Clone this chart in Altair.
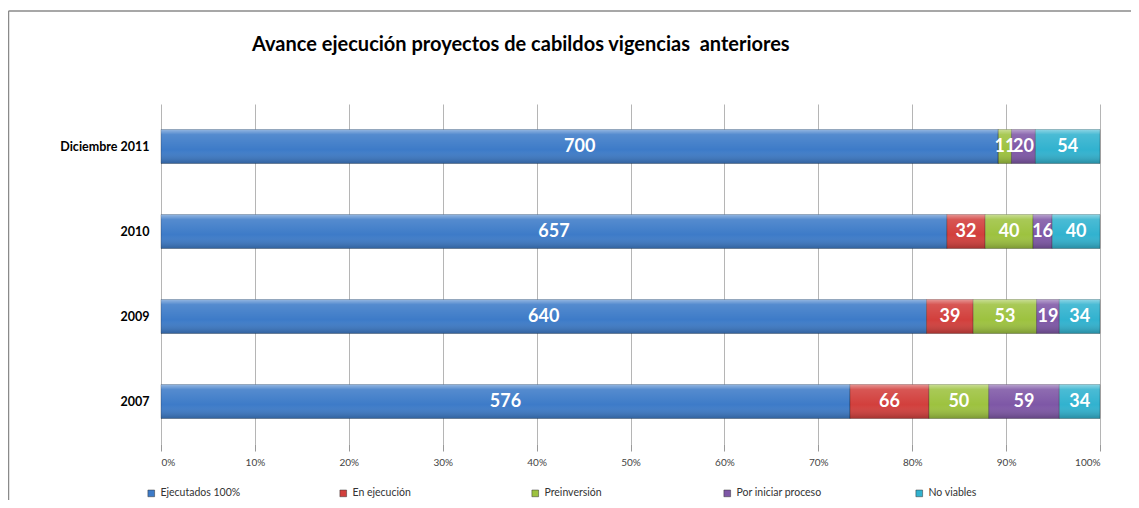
import altair as alt
import pandas as pd

title_text = "Avance ejecución proyectos de cabildos vigencias\u00a0 anteriores"
categories = ["Diciembre 2011", "2010", "2009", "2007"]
series = ["Ejecutados 100%", "En ejecución", "Preinversión", "Por iniciar proceso", "No viables"]
colors = ["#3D7BC8", "#D23F3C", "#9DC23F", "#7E57A6", "#31B2CF"]

ejecutados = [700, 657, 640, 576]
en_ejecucion = [0, 32, 39, 66]
preinversion = [11, 40, 53, 50]
por_iniciar = [20, 16, 19, 59]
no_viables = [54, 40, 34, 34]

values_by_series = [ejecutados, en_ejecucion, preinversion, por_iniciar, no_viables]
rows = []
for si, (s, vals) in enumerate(zip(series, values_by_series)):
    for c, v in zip(categories, vals):
        rows.append({"cat": c, "serie": s, "order": si, "value": v})
df = pd.DataFrame(rows)

FONT = "Lato"

base = alt.Chart(df).transform_stack(
    stack="value", groupby=["cat"], as_=["v0", "v1"], offset="normalize",
    sort=[alt.SortField("order", order="ascending")]
).transform_calculate(mid="(datum.v0 + datum.v1) / 2")

y_enc = alt.Y("cat:N", sort=categories, title=None,
              scale=alt.Scale(paddingInner=0.6, paddingOuter=0.3),
              axis=alt.Axis(labelFont=FONT, labelFontWeight="bold", labelFontSize=12.5,
                            labelColor="#000000", domain=False, ticks=False, labelPadding=12))

bars = base.mark_bar(stroke="#000000", strokeOpacity=0.25, strokeWidth=1).encode(
    x=alt.X("v0:Q", title=None, scale=alt.Scale(domain=[0, 1]),
            axis=alt.Axis(format="%", values=[i / 10 for i in range(11)], labelFont=FONT,
                          labelFontSize=10, labelColor="#444444", domain=False,
                          tickColor="#999999", tickSize=7, labelPadding=6,
                          grid=True, gridColor="#B5B5B5", gridWidth=1)),
    x2="v1:Q",
    y=y_enc,
    color=alt.Color("serie:N", sort=series,
                    scale=alt.Scale(domain=series, range=colors),
                    legend=alt.Legend(title=None, orient="none", legendX=-15, legendY=384,
                                      direction="horizontal", columns=5, columnPadding=92,
                                      gridAlign="all",
                                      symbolType="square", symbolSize=45,
                                      symbolStrokeColor="#333333", symbolStrokeWidth=0.5,
                                      labelFont=FONT, labelFontSize=10.5, labelColor="#333333",
                                      labelLimit=300)),
)

gloss = base.mark_bar(fill={
    "gradient": "linear", "x1": 0, "y1": 0, "x2": 0, "y2": 1,
    "stops": [
        {"offset": 0, "color": "rgba(255,255,255,0.45)"},
        {"offset": 0.15, "color": "rgba(255,255,255,0.12)"},
        {"offset": 0.6, "color": "rgba(255,255,255,0.0)"},
        {"offset": 1, "color": "rgba(0,0,0,0.22)"},
    ]}).encode(x="v0:Q", x2="v1:Q", y=alt.Y("cat:N", sort=categories))

labels = base.transform_filter("datum.value > 0").mark_text(
    font=FONT, fontWeight="bold", fontSize=18, color="white", baseline="middle", align="center"
).encode(x="mid:Q", y=alt.Y("cat:N", sort=categories), text="value:Q")

one = pd.DataFrame({"t": [title_text]})
title_mark = alt.Chart(one).mark_text(
    font=FONT, fontSize=20, fontWeight="bold", color="#000000", align="left",
    baseline="middle", clip=False
).encode(text="t:N", x=alt.value(91), y=alt.value(-59))

frame_left = alt.Chart(one).mark_rule(color="#8a8a8a", strokeWidth=1.5, clip=False).encode(
    x=alt.value(-152.5), y=alt.value(-93), y2=alt.value(410))
frame_top = alt.Chart(one).mark_rule(color="#8a8a8a", strokeWidth=1.5, clip=False).encode(
    x=alt.value(-152.5), x2=alt.value(990), y=alt.value(-93))

chart = alt.layer(bars, gloss, labels, title_mark, frame_left, frame_top).properties(
    width=939, height=340,
    autosize=alt.AutoSizeParams(type="none"),
    padding={"left": 153, "top": 96, "right": 31, "bottom": 56},
).configure_view(stroke=None)

chart.save("out.html", embed_options={"renderer": "svg", "actions": False})
